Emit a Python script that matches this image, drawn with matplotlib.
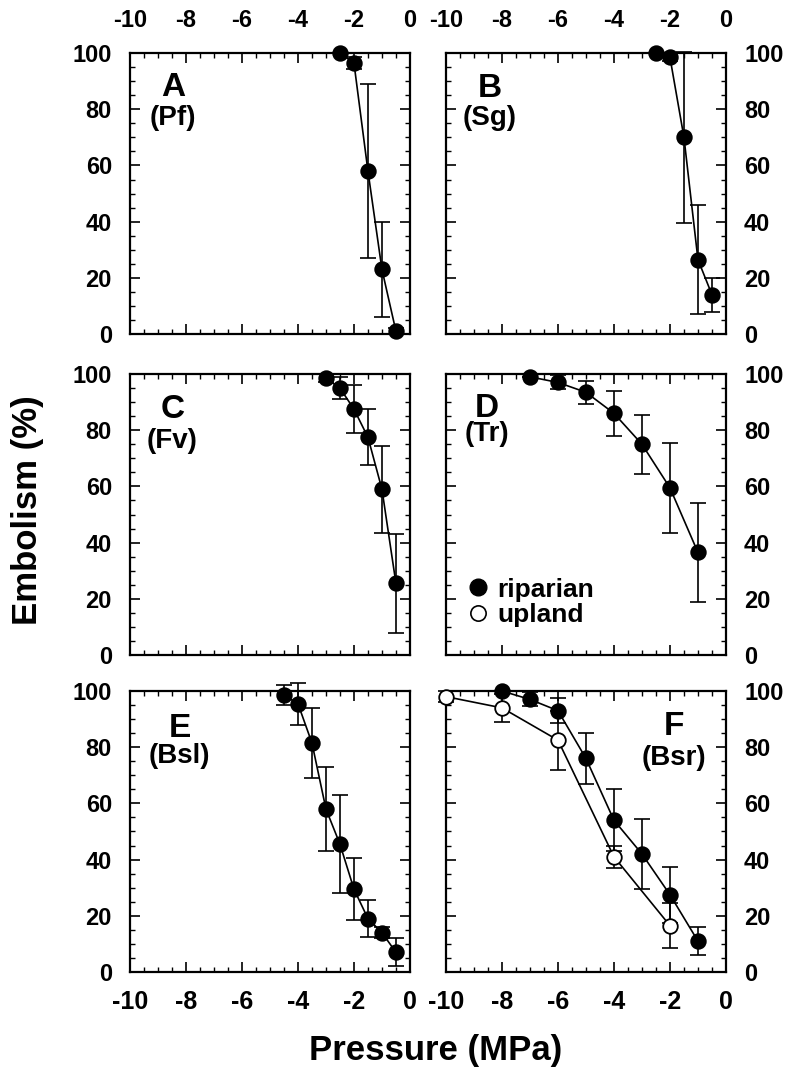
import matplotlib
matplotlib.use("Agg")
import matplotlib.pyplot as plt
from matplotlib.lines import Line2D
from matplotlib.ticker import MultipleLocator

plt.rcParams['font.family'] = ['Liberation Sans', 'DejaVu Sans']
plt.rcParams['font.weight'] = 'bold'
plt.rcParams['axes.unicode_minus'] = False

# panel data: pressure (MPa), embolism (%), error bar half-length
a_x = [-2.5, -2, -1.5, -1, -0.5]
a_y = [100, 96.5, 58, 23, 1]
a_err = [0, 2, 31, 17, 1]

b_x = [-2.5, -2, -1.5, -1, -0.5]
b_y = [100, 98.5, 70, 26.5, 14]
b_err = [0, 1.5, 30.5, 19.5, 6]

c_x = [-3, -2.5, -2, -1.5, -1, -0.5]
c_y = [98.5, 95, 87.5, 77.5, 59, 25.5]
c_err = [1.5, 4, 8.5, 10, 15.5, 17.5]

d_x = [-7, -6, -5, -4, -3, -2, -1]
d_y = [99, 97, 93.5, 86, 75, 59.5, 36.5]
d_err = [0, 2.5, 4, 8, 10.5, 16, 17.5]

e_x = [-4.5, -4, -3.5, -3, -2.5, -2, -1.5, -1, -0.5]
e_y = [98.5, 95.5, 81.5, 58, 45.5, 29.5, 19, 14, 7]
e_err = [3.5, 7.5, 12.5, 15, 17.5, 11, 6.5, 2, 5]

f_rip_x = [-8, -7, -6, -5, -4, -3, -2, -1]
f_rip_y = [100, 97, 93, 76, 54, 42, 27.5, 11]
f_rip_err = [0, 2.5, 4.5, 9, 11, 12.5, 10, 5]
f_up_x = [-10, -8, -6, -4, -2]
f_up_y = [98, 94, 82.5, 41, 16.5]
f_up_err = [2, 5, 10.5, 4, 8]

letters = ["A", "B", "C", "D", "E", "F"]
species = ["(Pf)", "(Sg)", "(Fv)", "(Tr)", "(Bsl)", "(Bsr)"]

fig = plt.figure(figsize=(7.92, 10.72), dpi=100)

lefts = [0.1641, 0.5631]
bottoms = [0.6884, 0.389, 0.0933]
w, h = 0.3535, 0.2621

axes = []
for r in range(3):
    for c in range(2):
        ax = fig.add_axes([lefts[c], bottoms[r], w, h])
        ax.set_xlim(-10, 0)
        ax.set_ylim(0, 100)
        ax.xaxis.set_major_locator(MultipleLocator(2))
        ax.xaxis.set_minor_locator(MultipleLocator(0.5))
        ax.yaxis.set_major_locator(MultipleLocator(20))
        ax.yaxis.set_minor_locator(MultipleLocator(5))
        ax.tick_params(which='both', direction='in', top=True, bottom=True,
                       left=True, right=True, labelsize=17, width=1.2)
        ax.tick_params(which='major', length=7)
        ax.tick_params(which='minor', length=3.5, width=1)
        ax.tick_params(axis='x', pad=13 if r == 2 else 15,
                       labeltop=(r == 0), labelbottom=(r == 2))
        if r == 2:
            ax.tick_params(axis='x', labelsize=18)
        ax.tick_params(axis='y', pad=13,
                       labelleft=(c == 0), labelright=(c == 1))
        for sp in ax.spines.values():
            sp.set_linewidth(1.6)
        axes.append(ax)


def draw(ax, x, y, err, fill):
    ax.errorbar(x, y, yerr=err, fmt='none', ecolor='black', elinewidth=1.2,
                capsize=5.5, capthick=1.2, clip_on=False, zorder=3)
    ax.plot(x, y, '-o', color='black', lw=1.2, ms=10.5,
            mfc='black' if fill else 'white', mec='black', mew=1.3,
            clip_on=False, zorder=4)


draw(axes[0], a_x, a_y, a_err, True)
draw(axes[1], b_x, b_y, b_err, True)
draw(axes[2], c_x, c_y, c_err, True)
draw(axes[3], d_x, d_y, d_err, True)
draw(axes[4], e_x, e_y, e_err, True)
draw(axes[5], f_rip_x, f_rip_y, f_rip_err, True)
draw(axes[5], f_up_x, f_up_y, f_up_err, False)

# (x, letter y, species y) in axes fraction
label_pos = [(0.155, 0.877, 0.769), (0.156, 0.875, 0.769),
             (0.152, 0.872, 0.762), (0.146, 0.879, 0.787),
             (0.178, 0.868, 0.768), (0.815, 0.875, 0.761)]
for ax, let, sp, (lx, ly, sy) in zip(axes, letters, species, label_pos):
    ax.text(lx, ly, let, transform=ax.transAxes, ha='center',
            va='center', fontsize=24, fontweight='bold')
    ax.text(lx, sy, sp, transform=ax.transAxes, ha='center', va='center',
            fontsize=20, fontweight='bold')

handles = [Line2D([], [], ls='none', marker='o', ms=12, mfc='black', mec='black'),
           Line2D([], [], ls='none', marker='o', ms=11, mfc='white', mec='black', mew=1.2)]
axes[3].legend(handles, ["riparian", "upland"], loc='upper left',
               bbox_to_anchor=(0.076, 0.275), frameon=False, handlelength=0.8,
               handletextpad=0.35, labelspacing=0.05, borderpad=0,
               borderaxespad=0, prop={'size': 19, 'weight': 'bold'})

fig.text(0.035, 0.524, "Embolism (%)", rotation=90, ha='center', va='center',
         fontsize=25, fontweight='bold')
fig.text(0.55, 0.02, "Pressure (MPa)", ha='center', va='center',
         fontsize=25, fontweight='bold')

fig.savefig("out.png", dpi=100)
